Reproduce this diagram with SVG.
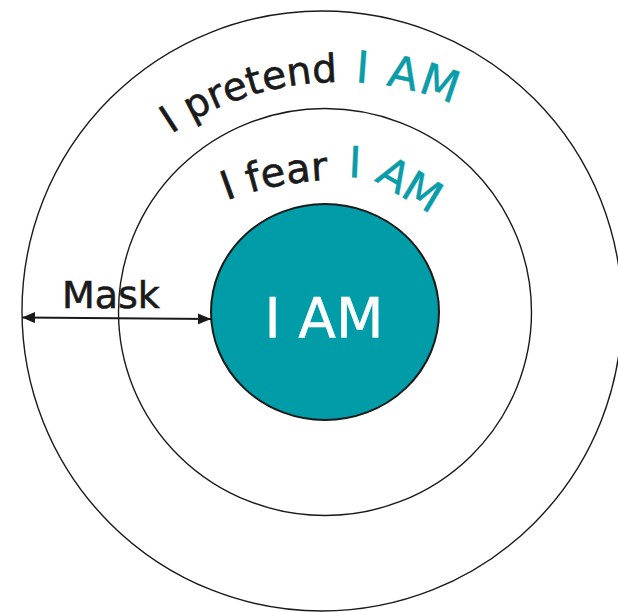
<svg xmlns="http://www.w3.org/2000/svg" xmlns:xlink="http://www.w3.org/1999/xlink" width="618" height="612" viewBox="0 0 618 612">
  <style>
    .ring { fill: none; stroke: #1a1a1a; stroke-width: 1.4; }
    .core { fill: #009ca8; stroke: #1a1a1a; stroke-width: 2; }
    .ink { font-family: "DejaVu Sans", "Liberation Sans", sans-serif; fill: #1a1a1a; stroke: #1a1a1a; stroke-width: 0.6; }
    .teal { font-family: "DejaVu Sans", "Liberation Sans", sans-serif; fill: #0a9ca8; stroke: #0a9ca8; stroke-width: 0.5; }
    .white { font-family: "DejaVu Sans", "Liberation Sans", sans-serif; fill: #ffffff; stroke: #ffffff; stroke-width: 0.5; }
    .arrow { stroke: #1a1a1a; stroke-width: 2; fill: none; }
  </style>
  <defs>
    <marker id="ah" viewBox="0 0 13 11" refX="13" refY="5.5" markerWidth="13" markerHeight="11" markerUnits="userSpaceOnUse" orient="auto-start-reverse">
      <path d="M0,0 L13,5.5 L0,11 z" fill="#1a1a1a"/>
    </marker>
    <path id="arc1" d="M100,202 A300,300 0 0 1 580,202"/>
    <path id="arc2" d="M140,250 A320,320 0 0 1 540,250"/>
    <path id="arc2b" d="M348,177 L370,178 L442,221"/>
  </defs>
  <rect width="618" height="612" fill="#ffffff"/>

  <g id="outer-ring">
    <ellipse class="ring" cx="322" cy="311" rx="300" ry="300"/>
    <text class="ink" font-size="39"><textPath xlink:href="#arc1" href="#arc1" startOffset="99">I pretend</textPath></text>
    <text class="teal" font-size="44" letter-spacing="2"><textPath xlink:href="#arc1" href="#arc1" startOffset="293">I AM</textPath></text>
  </g>

  <g id="middle-ring">
    <ellipse class="ring" cx="325" cy="312" rx="206.5" ry="203.5"/>
    <text class="ink" font-size="40"><textPath xlink:href="#arc2" href="#arc2" startOffset="100">I fear</textPath></text>
    <text class="teal" font-size="43"><textPath xlink:href="#arc2b" href="#arc2b" startOffset="0">I AM</textPath></text>
  </g>

  <g id="core">
    <ellipse class="core" cx="325" cy="312" rx="114" ry="108"/>
    <text class="white" font-size="55" x="324" y="337" text-anchor="middle">I AM</text>
  </g>

  <g id="connectors">
    <line class="arrow" x1="22" y1="317.5" x2="211" y2="319" marker-start="url(#ah)" marker-end="url(#ah)"/>
    <text class="ink" font-size="38" x="62" y="308">Mask</text>
  </g>
</svg>
